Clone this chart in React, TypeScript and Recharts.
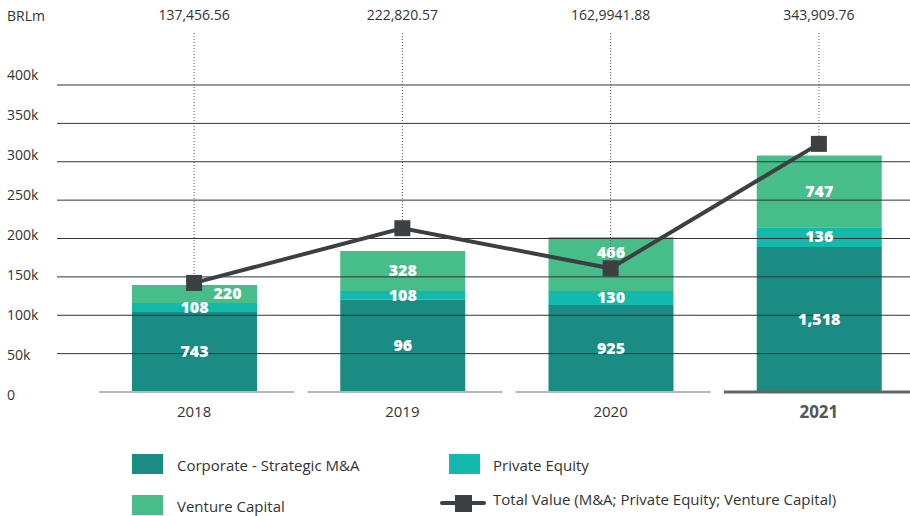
import React from 'react';
import { ComposedChart, Bar, Line, XAxis, YAxis, ReferenceLine, LabelList } from 'recharts';

const years = ['2018', '2019', '2020', '2021'];
const corporate = [104300, 120300, 113400, 189000];
const privateEquity = [11700, 11300, 18200, 25700];
const ventureCapital = [23500, 52100, 70000, 93300];
const totalValue = [142100, 213400, 161200, 323300];
const corpDeals = ['743', '96', '925', '1,518'];
const peDeals = ['108', '108', '130', '136'];
const vcDeals = ['220', '328', '466', '747'];
const totalLabels = ['137,456.56', '222,820.57', '162,9941.88', '343,909.76'];
const yTicks = [0, 50000, 100000, 150000, 200000, 250000, 300000, 350000, 400000];
const yTickLabels = ['0', '50k', '100k', '150k', '200k', '250k', '300k', '350k', '400k'];

const C_CORP = '#1b8c83';
const C_PE = '#12b9ac';
const C_VC = '#47bd8a';
const C_LINE = '#3d4043';
const FONT = '"Open Sans", sans-serif';

const data = years.map((y, i) => ({
  year: y,
  corporate: corporate[i],
  privateEquity: privateEquity[i],
  ventureCapital: ventureCapital[i],
  total: totalValue[i],
  corpDeals: corpDeals[i],
  peDeals: peDeals[i],
  vcDeals: vcDeals[i],
  totalLabel: totalLabels[i],
}));

const XTick = (props: any) => {
  const { x, y, payload, index } = props;
  const last = index === years.length - 1;
  return (
    <g>
      <line x1={x - 95} x2={x + 100} y1={y} y2={y} stroke={last ? '#5f6664' : '#b8b8b8'} strokeWidth={last ? 3 : 2} />
      <text
        x={x}
        y={y + 21}
        textAnchor="middle"
        dominantBaseline="middle"
        fontFamily={FONT}
        fontSize={last ? 17 : 15}
        fontWeight={last ? 700 : 400}
        fill={last ? '#555' : '#333'}
      >
        {payload.value}
      </text>
    </g>
  );
};

// tick labels are spread slightly wider than the gridlines in the reference
const YTick = (props: any) => {
  const { y, payload } = props;
  const idx = yTicks.indexOf(payload.value);
  const ly = 1.0417 * y - 12.3;
  return (
    <text x={7} y={ly} textAnchor="start" dominantBaseline="middle" fontFamily={FONT} fontSize={14} fill="#333">
      {idx >= 0 ? yTickLabels[idx] : payload.value}
    </text>
  );
};

const BarLabel = (props: any) => {
  const { x, y, width, height, value } = props;
  return (
    <text
      x={x + width / 2}
      y={y + height / 2 + 1}
      textAnchor="middle"
      dominantBaseline="middle"
      fontFamily={FONT}
      fontSize={16}
      fontWeight={800}
      fill="#fff"
    >
      {value}
    </text>
  );
};

const VcLabel = (props: any) => {
  const { x, y, width, height, value, index } = props;
  const base = corporate[index] + privateEquity[index];
  const pxPerUnit = height / ventureCapital[index];
  const markerY = y + height - (totalValue[index] - base) * pxPerUnit;
  const markerInside = markerY > y && markerY < y + height;
  let lx = x + width / 2;
  let ly = y + height / 2 + 1;
  if (height < 25) lx += 33;
  else if (markerInside) ly = y + 16;
  return (
    <text x={lx} y={ly} textAnchor="middle" dominantBaseline="middle" fontFamily={FONT} fontSize={16} fontWeight={800} fill="#fff">
      {value}
    </text>
  );
};

const SquareDot = (props: any) => {
  const { cx, cy } = props;
  return <rect x={cx - 8} y={cy - 8} width={16} height={16} fill={C_LINE} />;
};

const TopLabel = (props: any) => {
  const { x, y, value } = props;
  return (
    <g>
      <line x1={x} x2={x} y1={33} y2={y - 8} stroke="#555" strokeWidth={1} strokeDasharray="1 2" />
      <text x={x} y={16} textAnchor="middle" dominantBaseline="middle" fontFamily={FONT} fontSize={14} fill="#333">
        {value}
      </text>
    </g>
  );
};

const Swatch = ({ color, left, top }: any) => (
  <div style={{ position: 'absolute', left, top, width: 31, height: 20, background: color }} />
);
const LegendText = ({ left, top, children }: any) => (
  <div style={{ position: 'absolute', left, top, fontFamily: FONT, fontSize: 15, color: '#333', lineHeight: '20px', whiteSpace: 'nowrap' }}>
    {children}
  </div>
);

export default function App() {
  return (
    <div style={{ position: 'absolute', left: 0, top: 0, width: 910, height: 516, overflow: 'hidden', background: '#fff' }}>
      <div style={{ position: 'absolute', left: 7, top: 6, fontFamily: FONT, fontSize: 14, color: '#333', lineHeight: '20px' }}>BRLm</div>
      <div style={{ position: 'absolute', left: 0, top: 0 }}>
        <ComposedChart width={923} height={430} data={data} margin={{ top: 85, right: 0, left: 0, bottom: 0 }}>
          <YAxis
            width={57}
            domain={[0, 400000]}
            ticks={yTicks}
            axisLine={false}
            tickLine={false}
            tick={<YTick />}
            interval={0}
          />
          <XAxis
            dataKey="year"
            height={38}
            padding={{ left: 33, right: 0 }}
            axisLine={false}
            tickLine={false}
            tickSize={0}
            tickMargin={0}
            interval={0}
            tick={<XTick />}
          />
          {yTicks.filter((t) => t > 0).map((t) => (
            <ReferenceLine key={t} y={t} stroke="#333" strokeWidth={1} />
          ))}
          <Bar dataKey="corporate" stackId="a" fill={C_CORP} barSize={125} isAnimationActive={false}>
            <LabelList dataKey="corpDeals" content={<BarLabel />} />
          </Bar>
          <Bar dataKey="privateEquity" stackId="a" fill={C_PE} barSize={125} isAnimationActive={false}>
            <LabelList dataKey="peDeals" content={<BarLabel />} />
          </Bar>
          <Bar dataKey="ventureCapital" stackId="a" fill={C_VC} barSize={125} isAnimationActive={false}>
            <LabelList dataKey="vcDeals" content={<VcLabel />} />
          </Bar>
          <Line
            dataKey="total"
            stroke={C_LINE}
            strokeWidth={4}
            dot={<SquareDot />}
            activeDot={false}
            isAnimationActive={false}
          >
            <LabelList dataKey="totalLabel" content={<TopLabel />} />
          </Line>
        </ComposedChart>
      </div>
      <Swatch color={C_CORP} left={132} top={454} />
      <LegendText left={177} top={455}>Corporate - Strategic M&amp;A</LegendText>
      <Swatch color={C_PE} left={449} top={454} />
      <LegendText left={493} top={455}>Private Equity</LegendText>
      <Swatch color={C_VC} left={132} top={495} />
      <LegendText left={177} top={496}>Venture Capital</LegendText>
      <div style={{ position: 'absolute', left: 440, top: 501, width: 46, height: 4, background: C_LINE, borderRadius: 2 }} />
      <div style={{ position: 'absolute', left: 455, top: 495, width: 17, height: 17, background: C_LINE }} />
      <LegendText left={493} top={489}>Total Value (M&amp;A; Private Equity; Venture Capital)</LegendText>
    </div>
  );
}
